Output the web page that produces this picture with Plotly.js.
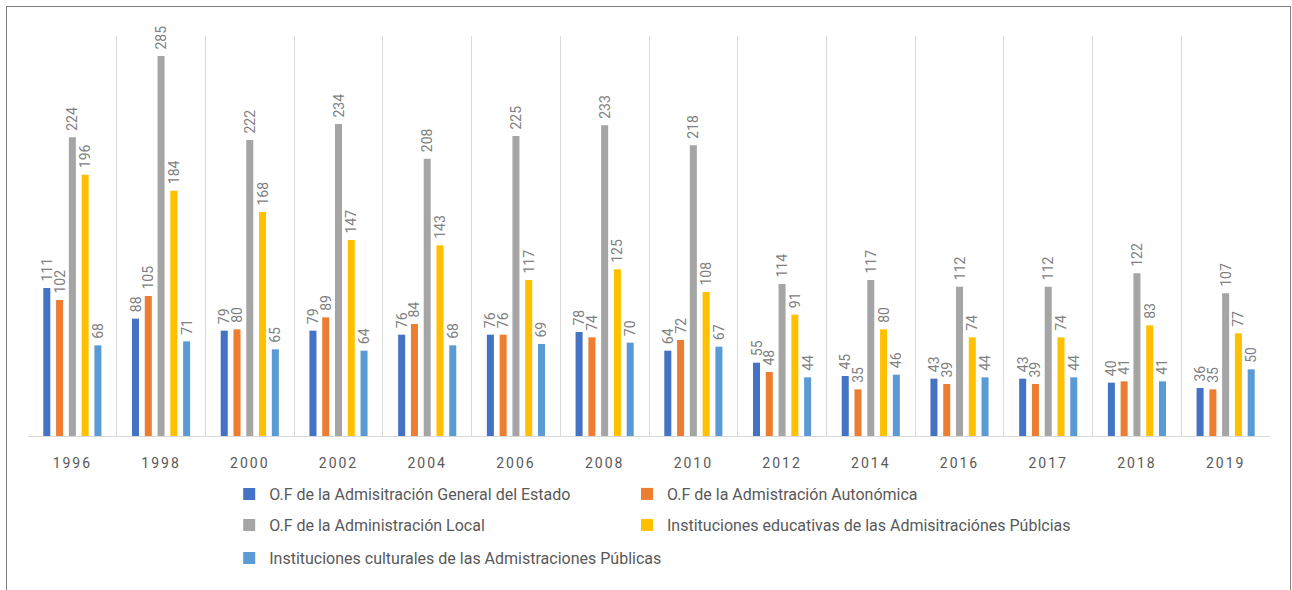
<!DOCTYPE html>
<html><head><meta charset="utf-8">
<script src="https://cdn.plot.ly/plotly-3.0.1.min.js"></script>
<style>
body{margin:0;background:#fff;}
#wrap{position:relative;width:1292px;height:590px;}
#chart{width:1292px;height:590px;}
#frame{position:absolute;left:6px;top:6px;width:1283px;height:600px;border:1px solid #7f7f7f;pointer-events:none;}
.xtick text{letter-spacing:2px;}
</style></head>
<body><div id="wrap"><div id="chart"></div><div id="frame"></div></div>
<script>
const years = ['1996','1998','2000','2002','2004','2006','2008','2010','2012','2014','2016','2017','2018','2019'];
const seriesNames = [
  'O.F de la Admisitración General del Estado',
  'O.F de la Admistración Autonómica',
  'O.F de la Administración Local',
  'Instituciones educativas de las Admisitraciónes Públcias',
  'Instituciones culturales de las Admistraciones Públicas'
];
const generalEstado = [111,88,79,79,76,76,78,64,55,45,43,43,40,36];
const autonomica    = [102,105,80,89,84,76,74,72,48,35,39,39,41,35];
const local         = [224,285,222,234,208,225,233,218,114,117,112,112,122,107];
const educativas    = [196,184,168,147,143,117,125,108,91,80,74,74,83,77];
const culturales    = [68,71,65,64,68,69,70,67,44,46,44,44,41,50];
const colors = ['#4472C4','#ED7D31','#A5A5A5','#FFC000','#5B9BD5'];
const allValues = [generalEstado, autonomica, local, educativas, culturales];
const legendIds = ['legend','legend2','legend3','legend4','legend5'];

const FONT = '"Liberation Sans Narrow", "Roboto", sans-serif';
const traces = allValues.map((vals,i)=>({
  type:'bar', x:years, y:vals, name:seriesNames[i],
  marker:{color:colors[i]},
  text:vals.map(v=>'\u00a0'+String(v)), textposition:'outside', textangle:-90,
  constraintext:'none', cliponaxis:false,
  textfont:{family:FONT,size:14,color:'#808080'},
  legend:legendIds[i], hoverinfo:'none'
}));
// helper trace on a numeric overlay axis for category separators
traces.push({type:'scatter', x:[], y:[], xaxis:'x2', yaxis:'y', showlegend:false, hoverinfo:'none'});

const legendBase = {orientation:'h', xanchor:'left', yanchor:'middle',
  font:{family:FONT,size:16,color:'#595959'}, bgcolor:'rgba(0,0,0,0)', itemwidth:30};
const colX = [0.162, 0.4823];
const rowY = [-0.145, -0.2225, -0.305];
const leg = (c,r)=>Object.assign({}, legendBase, {x:colX[c], y:rowY[r]});

const layout = {
  width:1292, height:590,
  margin:{l:28,r:22,t:36,b:154},
  paper_bgcolor:'#fff', plot_bgcolor:'#fff',
  barmode:'group', bargap:0.28, bargroupgap:0.45,
  xaxis:{type:'category', showgrid:false, showline:true, linecolor:'#d9d9d9', linewidth:1,
    ticks:'', tickfont:{family:FONT,size:14,color:'#595959'}, ticklabelstandoff:14, zeroline:false},
  xaxis2:{overlaying:'x', range:[-0.5,13.5], tickvals:[-0.5,0.5,1.5,2.5,3.5,4.5,5.5,6.5,7.5,8.5,9.5,10.5,11.5,12.5,13.5],
    showgrid:true, gridcolor:'#d9d9d9', gridwidth:1, showticklabels:false, ticks:'', zeroline:false, layer:'below traces'},
  yaxis:{range:[0,300], visible:false, showgrid:false, zeroline:false},
  legend:leg(0,0), legend2:leg(1,0), legend3:leg(0,1), legend4:leg(1,1), legend5:leg(0,2),
  showlegend:true
};
Plotly.newPlot('chart', traces, layout, {displayModeBar:false, staticPlot:true});
</script></body></html>
